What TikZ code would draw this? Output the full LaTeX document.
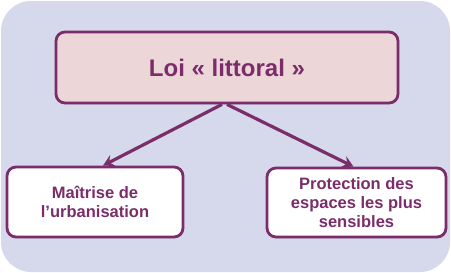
\documentclass[tikz,border=0pt]{standalone}
\usepackage{fontspec}
\setmainfont{Liberation Sans}
\usetikzlibrary{arrows.meta,shadows}
\definecolor{lpurple}{HTML}{7B2D6B}
\definecolor{lpink}{HTML}{EDD6D8}
\definecolor{llav}{HTML}{D6D9EB}
\begin{document}
\begin{tikzpicture}[x=1pt, y=-1pt,
  box/.style={draw=lpurple, line width=2.8pt, rounded corners=9pt,
              align=center, inner sep=3pt, text=lpurple, font=\bfseries,
              drop shadow={opacity=0.2, shadow xshift=1pt, shadow yshift=-1.5pt}},
  flow/.style={-{Stealth[length=11pt, width=12pt, inset=4pt]}, line width=3.2pt, draw=lpurple}]
  \useasboundingbox (0,0) rectangle (451,273);
  \fill[llav, rounded corners=30pt] (1,1) rectangle (450,272);
  \node[box, fill=lpink, minimum width=342pt, minimum height=71pt,
        font=\fontsize{24}{28}\selectfont\bfseries] (loi) at (227,67.5)
    {Loi « littoral »};
  \node[box, fill=white, minimum width=176pt, minimum height=70pt,
        font=\fontsize{16.5}{19}\selectfont\bfseries] (maitrise) at (95,202)
    {Maîtrise de\\l’urbanisation};
  \node[box, fill=white, minimum width=179pt, minimum height=69pt,
        font=\fontsize{16.5}{19}\selectfont\bfseries] (protection) at (356.5,202.5)
    {Protection des\\espaces les plus\\sensibles};
  \draw[flow] ([xshift=-5pt]loi.south) -- ([xshift=8pt]maitrise.north);
  \draw[flow] (loi.south) -- ([xshift=-3pt]protection.north);
\end{tikzpicture}
\end{document}
